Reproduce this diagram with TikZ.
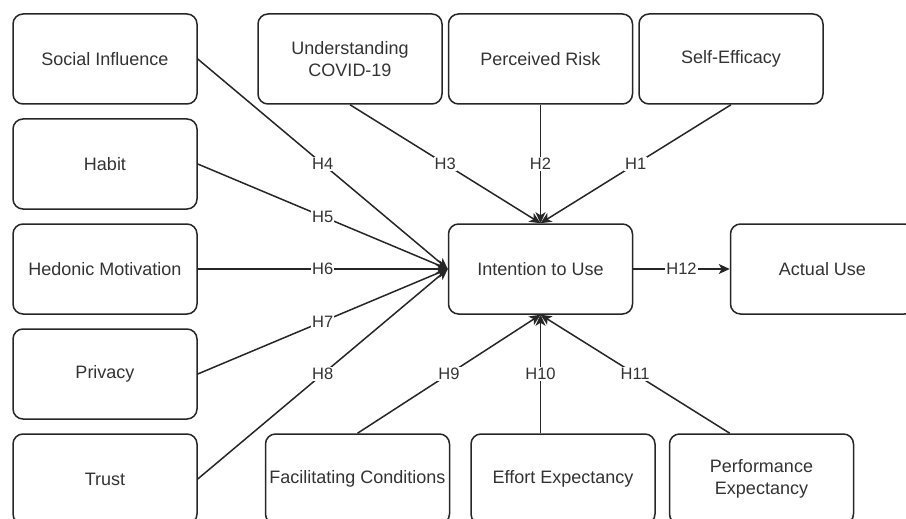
\documentclass[tikz,border=0pt]{standalone}
\usepackage{fontspec}
\usepackage{tikz}
\setmainfont{Liberation Sans}
\usetikzlibrary{arrows.meta}
\usetikzlibrary{positioning}

\tikzset{
  construct/.style={draw=black!85, line width=1.5pt, rounded corners=10pt,
    minimum width=184pt, minimum height=90pt, inner sep=0pt, align=center,
    font=\fontsize{18}{22}\selectfont, text=black!80},
  hyp/.style={draw=black!85, line width=1.5pt,
    -{Stealth[length=11pt, width=10pt, inset=3pt]}},
  hlabel/.style={fill=white, inner sep=1pt,
    font=\fontsize{16.5}{18}\selectfont, text=black!80}
}

\begin{document}
\begin{tikzpicture}[x=1pt, y=-1pt]
  \useasboundingbox (0, 0) rectangle (906, 519);
  \clip (0, 0) rectangle (906, 519);
  % left column
  \foreach \name/\txt/\y in {soc/Social Influence/59, hab/Habit/164,
      hed/Hedonic Motivation/269, pri/Privacy/374, tru/Trust/479} {
    \node[construct] (\name) at (105, \y) {\txt};
  }
  % top row
  \node[construct] (und) at (350, 59) {Understanding\\COVID-19};
  \node[construct] (risk) at (540.5, 59) {Perceived Risk};
  \node[construct] (self) at (731, 59) {Self-Efficacy};
  % middle
  \node[construct] (int) at (540.5, 269) {Intention to Use};
  \node[construct] (act) at (822.5, 269) {Actual Use};
  % bottom row
  \node[construct] (fac) at (357.5, 479) {Facilitating Conditions};
  \node[construct] (eff) at (563, 479) {Effort Expectancy};
  \node[construct] (perf) at (761.5, 479) {Performance\\Expectancy};

  \foreach \name/\h in {soc/4, hab/5, hed/6, pri/7, tru/8} {
    \draw[hyp] (\name.east) -- node[hlabel] {H\h} (int.west);
  }
  \foreach \name/\h in {und/3, risk/2, self/1} {
    \draw[hyp] (\name.south) -- node[hlabel] {H\h} (int.north);
  }
  \draw[hyp] (fac.north) -- node[hlabel] {H9} (int.south);
  \draw[hyp] (eff.north -| int.south) -- node[hlabel] {H10} (int.south);
  \draw[hyp] (perf.north -| act.west) -- node[hlabel] {H11} (int.south);
  \draw[hyp] (int.east) -- node[hlabel] {H12} (act.west);
\end{tikzpicture}
\end{document}
